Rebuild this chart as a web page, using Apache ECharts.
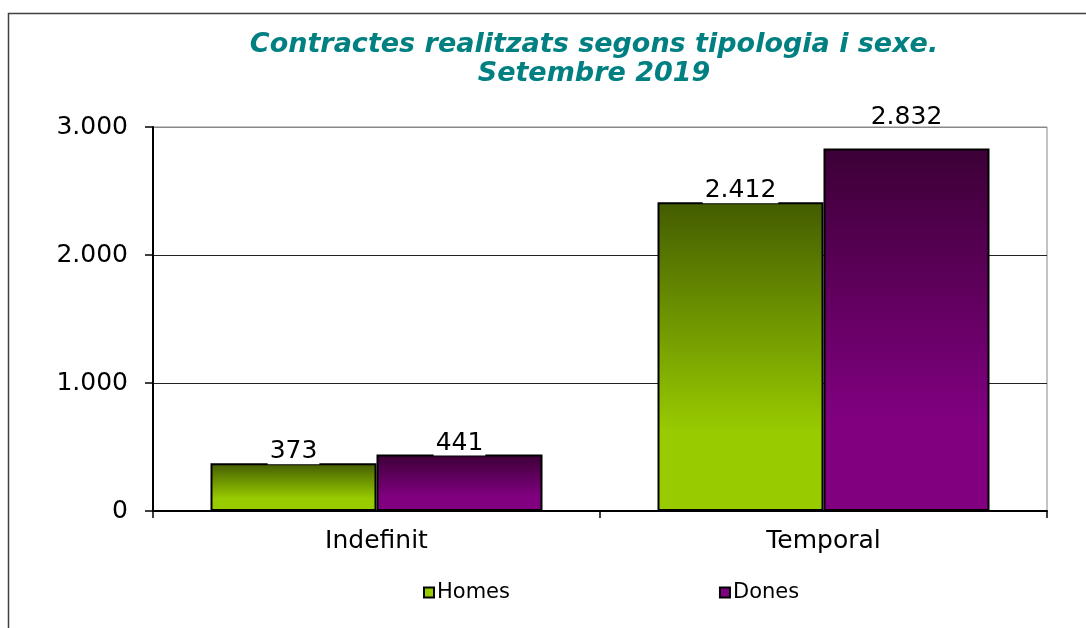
<!DOCTYPE html>
<html><head><meta charset="utf-8">
<script src="https://cdn.jsdelivr.net/npm/echarts@6/dist/echarts.min.js"></script>
<style>html,body{margin:0;padding:0;background:#fff}#c{width:1086px;height:628px}</style>
</head><body><div id="c"></div>
<script>
const categories = ['Indefinit', 'Temporal'];
const homes = [373, 2412];
const dones = [441, 2832];
const seriesNames = ['Homes', 'Dones'];

function fmt(v){ return String(Math.round(v)).replace(/\B(?=(\d{3})+(?!\d))/g, '.'); }
const font = '"DejaVu Sans", "Liberation Sans", Arial, sans-serif';

const chart = echarts.init(document.getElementById('c'), null, {renderer:'canvas'});
function grad(top, bottom){
  return new echarts.graphic.LinearGradient(0,0,0,1,[{offset:0,color:top},{offset:0.75,color:bottom},{offset:1,color:bottom}]);
}
const lbl = {show:true, position:'top', distance:-1, color:'#000', fontSize:25, fontFamily:font,
  backgroundColor:'#fff', padding:[0,2,0,2], formatter:p=>fmt(p.value)};
// the tallest label sits above the plot frame in the original
const doneData = dones.map((v,i)=> v === Math.max(...dones) ? {value:v, label:{distance:19, backgroundColor:'transparent'}} : v);
chart.setOption({
  animation:false,
  backgroundColor:'#fff',
  title:{text:'Contractes realitzats segons tipologia i sexe.\nSetembre 2019', left:589, textAlign:'center', top:25,
    textStyle:{color:'#008080', fontSize:27, fontWeight:'bold', fontStyle:'italic', fontFamily:font, lineHeight:29}},
  graphic:[{type:'rect', shape:{x:8.5,y:13.5,width:1100,height:640}, style:{fill:'none', stroke:'#404040', lineWidth:1.5}, silent:true, z:-1}],
  legend:{top:577, left:418, itemWidth:10, itemHeight:10, itemGap:209, icon:'rect',
    textStyle:{fontSize:21, fontFamily:font, color:'#000', padding:[0,0,0,-2]},
    data:[{name:'Homes', itemStyle:{color:'#99cc00', borderColor:'#000', borderWidth:2}},
          {name:'Dones', itemStyle:{color:'#800080', borderColor:'#000', borderWidth:2}}]},
  grid:{left:153, right:39, top:127, bottom:117, show:true, borderColor:'#888', borderWidth:1},
  xAxis:{type:'category', data:categories,
    axisLine:{lineStyle:{color:'#000', width:2}},
    axisTick:{show:true, length:7, lineStyle:{color:'#000', width:1.5}},
    axisLabel:{fontSize:25, color:'#000', fontFamily:font, margin:18}},
  yAxis:{type:'value', min:0, max:3000, interval:1000,
    axisLine:{show:true, lineStyle:{color:'#000', width:2}},
    axisTick:{show:true, length:8, lineStyle:{color:'#000', width:1.5}},
    axisLabel:{fontSize:25, color:'#000', fontFamily:font, margin:25, formatter:fmt},
    splitLine:{show:true, lineStyle:{color:['#000','#222','#222','#888'], width:1}}},
  series:[
    {name:seriesNames[0], type:'bar', data:homes, barWidth:166, barGap:'0%',
      itemStyle:{color:grad('#435c00','#99cc00'), borderColor:'#000', borderWidth:2}, label:lbl},
    {name:seriesNames[1], type:'bar', data:doneData, barWidth:166, barGap:'0%',
      itemStyle:{color:grad('#3c0036','#800080'), borderColor:'#000', borderWidth:2}, label:lbl}
  ]
});
</script></body></html>
